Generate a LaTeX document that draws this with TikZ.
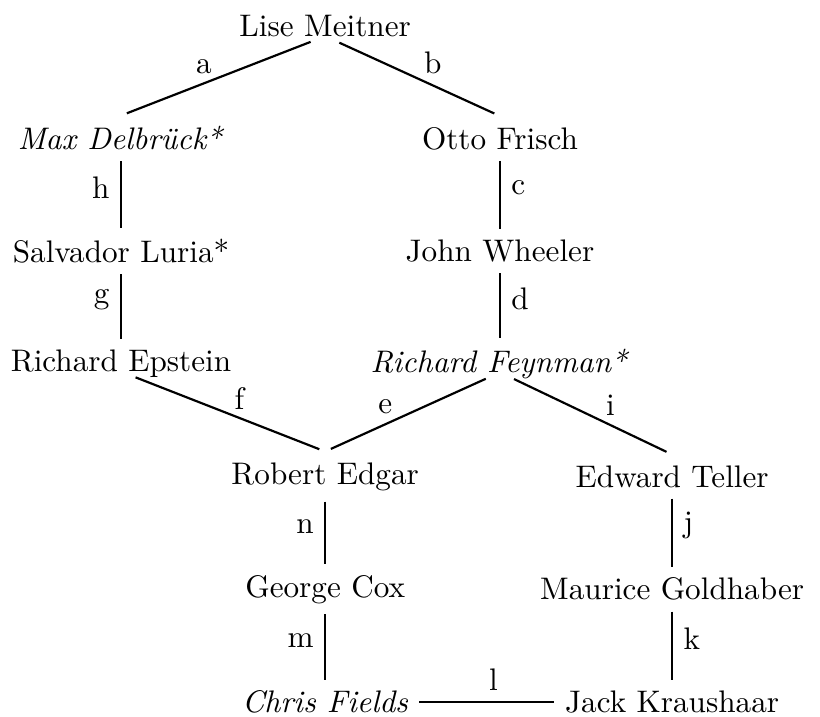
\documentclass[tikz,border=0pt]{standalone}
\begin{document}
\begin{tikzpicture}[
    edge/.style={line width=0.7pt},
    slant/.style={edge, shorten <=5pt, shorten >=2pt},
    tag/.style={yshift=-3pt}]
    % columns and row step
    \def \l {-2.3};
    \def \m {0};
    \def \r {1.97};
    \def \rr {3.91};
    \def \h {1.27};

    \useasboundingbox (-3.664, 0.29) rectangle (5.576, -7.789);

    \node (meitner) at (\m, 0) {Lise Meitner};

    \node (delbruck) at (\l, -\h) {\textit{Max Delbrück*}};
    \node (luria) at (\l, -2*\h) {Salvador Luria*};
    \node (epstein) at (\l, -3*\h) {Richard Epstein};

    \node (frisch) at (\r, -\h) {Otto Frisch};
    \node (wheeler) at (\r, -2*\h) {John Wheeler};
    \node (feynman) at (\r, -3*\h) {\textit{Richard Feynman*}};

    \node (edgar) at (\m, -4*\h) {Robert Edgar};
    \node (cox) at (\m, -5*\h) {George Cox};
    \node (fields) at (\m, -6*\h) {\textit{Chris Fields}};

    \node (teller) at (\rr, -4*\h) {Edward Teller};
    \node (goldhaber) at (\rr, -5*\h) {Maurice Goldhaber};
    \node (kraushaar) at (\rr, -6*\h) {Jack Kraushaar};

    \draw [slant] (meitner.base) -- node[tag, above left] {a} (delbruck.north);
    \draw [slant] (meitner.base) -- node[tag, above right] {b} (frisch.north);
    \draw [edge] (frisch) -- node[pos=0.4, right] {c} (wheeler);
    \draw [edge] (wheeler) -- node[pos=0.4, right] {d} (feynman);
    \draw [slant] (feynman.base) -- node[tag, pos=0.55, above left] {e} (edgar.north);
    \draw [slant] (epstein.base) -- node[tag, above right] {f} (edgar.north);
    \draw [edge] (luria) -- node[pos=0.4, left] {g} (epstein);
    \draw [edge] (delbruck) -- node[pos=0.4, left] {h} (luria);
    \draw [slant] (feynman.base) -- node[tag, pos=0.55, above right] {i} (teller.north);
    \draw [edge] (teller) -- node[pos=0.4, right] {j} (goldhaber);
    \draw [edge] (goldhaber) -- node[pos=0.4, right] {k} (kraushaar);
    \draw [edge] (fields) -- node[pos=0.55, above] {l} (kraushaar);
    \draw [edge] (cox) -- node[pos=0.4, left] {m} (fields);
    \draw [edge] (edgar) -- node[pos=0.4, left] {n} (cox);

\end{tikzpicture}
\end{document}
